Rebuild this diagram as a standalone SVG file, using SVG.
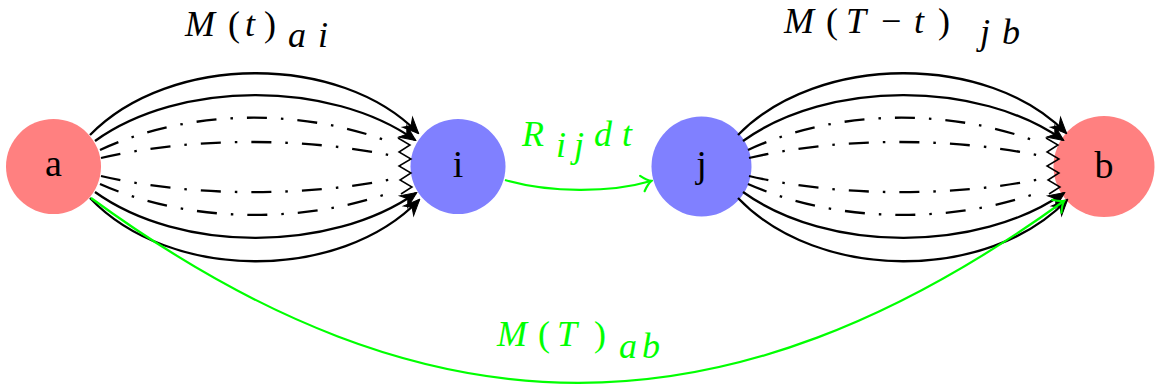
<svg xmlns="http://www.w3.org/2000/svg" width="1156" height="389" viewBox="0 0 1156 389">
<style>
.nodeR{fill:#FF8080}
.nodeB{fill:#8080FF}
.nl{font-family:"Liberation Serif","Times New Roman",serif;font-size:38px;fill:#000;text-anchor:middle}
.solid{fill:none;stroke:#000;stroke-width:2.3}
.dd{fill:none;stroke:#000;stroke-width:2.3;stroke-dasharray:20 14 2.5 14}
.zz{fill:none;stroke:#000;stroke-width:1.5;stroke-linejoin:miter}
.g{fill:none;stroke:#00FF00;stroke-width:2.2}
.m{font-family:"Liberation Serif","Times New Roman",serif;font-size:36px;font-style:italic}
.up{font-style:normal}
.gt{fill:#00FF00}
</style>
<defs>
<marker id="stealth" viewBox="-18 -9 20 18" refX="0" refY="0" markerWidth="20" markerHeight="18" markerUnits="userSpaceOnUse" orient="auto">
<path d="M1,0 L-15,-7 L-10,0 L-15,7 Z" fill="#000" stroke="#000" stroke-width="1" stroke-linejoin="miter"/>
</marker>
<marker id="gto" viewBox="-11 -10 13 20" refX="0" refY="0" markerWidth="13" markerHeight="20" markerUnits="userSpaceOnUse" orient="auto">
<path d="M-9,-8 Q-3.5,-1.5 0.5,0 Q-3.5,1.5 -9,8" fill="none" stroke="#00FF00" stroke-width="2.2" stroke-linecap="round"/>
</marker>
<g id="bundle">
<path class="solid" d="M90,135 C170,53 340,53 418,133" marker-end="url(#stealth)"/>
<path class="solid" d="M95,141 C180,80 330,80 415,140" marker-end="url(#stealth)"/>
<path class="dd" d="M100,150 C190,108 305,108 395,144"/>
<path class="dd" d="M101,158 C190,137 305,137 393,156"/>
<path class="dd" d="M101,176 C190,197 305,197 393,179"/>
<path class="dd" d="M100,184 C190,224 305,224 395,191"/>
<path class="solid" d="M95,192 C180,253 330,253 416,193" marker-end="url(#stealth)"/>
<path class="solid" d="M90,198 C170,282 340,282 419,200" marker-end="url(#stealth)"/>
<polyline class="zz" points="398,138 410,145 399,152 411,159 399,166 411,173 400,180 412,187 401,194"/>
</g>
</defs>

<g id="node-a"><circle class="nodeR" cx="53.5" cy="166.5" r="47.5"/><text class="nl" x="53.5" y="176">a</text></g>
<g id="node-i"><circle class="nodeB" cx="458" cy="166.5" r="47.5"/><text class="nl" x="458" y="177">i</text></g>
<g id="node-j"><circle class="nodeB" cx="701.5" cy="166.5" r="50"/><text class="nl" x="701.5" y="177">j</text></g>
<g id="node-b"><circle class="nodeR" cx="1104" cy="166.5" r="50.5"/><text class="nl" x="1104" y="178">b</text></g>

<g id="connectors">
<use href="#bundle"/>
<use href="#bundle" transform="translate(648,0)"/>
<path class="g" d="M505,180 C550,193 610,193 651,181" marker-end="url(#gto)"/>
<path class="g" d="M91,198 C428,444 727,444 1064,201" marker-end="url(#gto)"/>
</g>

<g id="labels">
<text class="m"><tspan x="185" y="36">M</tspan><tspan class="up" x="228" y="36">(</tspan><tspan x="245" y="36">t</tspan><tspan class="up" x="264" y="36">)</tspan><tspan x="288" y="47">a</tspan><tspan x="318" y="47">i</tspan></text>
<text class="m"><tspan x="784" y="33">M</tspan><tspan class="up" x="826" y="33">(</tspan><tspan x="846" y="33">T</tspan><tspan class="up" x="881" y="33">−</tspan><tspan x="914" y="33">t</tspan><tspan class="up" x="938" y="33">)</tspan><tspan x="980" y="44">j</tspan><tspan x="1002" y="44">b</tspan></text>
<text class="m gt"><tspan x="522" y="146">R</tspan><tspan x="556" y="157">i</tspan><tspan x="574" y="157">j</tspan><tspan x="594" y="146">d</tspan><tspan x="622" y="146">t</tspan></text>
<text class="m gt"><tspan x="497" y="346">M</tspan><tspan class="up" x="538" y="346">(</tspan><tspan x="557" y="346">T</tspan><tspan class="up" x="594" y="346">)</tspan><tspan x="619" y="358">a</tspan><tspan x="642" y="358">b</tspan></text>
</g>
</svg>
